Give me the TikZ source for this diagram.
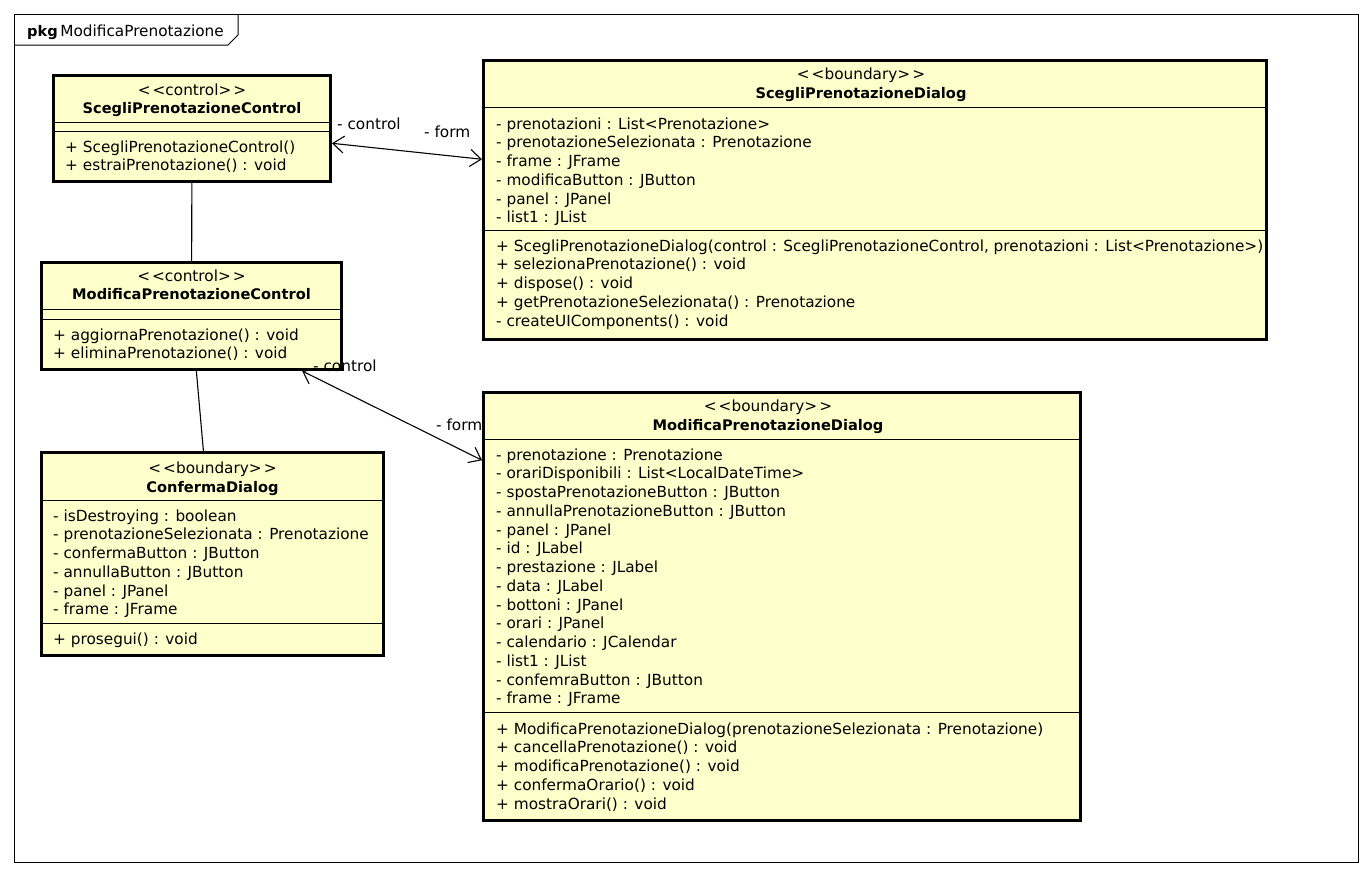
\documentclass[tikz,border=0pt]{standalone}
\usepackage{fontspec}
\setmainfont{DejaVu Sans}
\usetikzlibrary{arrows.meta}
\definecolor{umlfill}{HTML}{FFFFCC}
\newcommand\umlsz{\fontsize{15.3}{18.75}\selectfont}
\newcommand\umlbf{\fontsize{14.6}{18.75}\selectfont\bfseries}
\newcommand\stereo[1]{<\kern2pt<#1>\kern2pt>}
\newcommand\umlrows[4]{%
  \foreach \rowtext [count=\i from 0] in {#4} {%
    \node[row] (#1\i) at (#2, #3+18.75*\i) {\rowtext};}}
\begin{document}
\begin{tikzpicture}[x=1pt, y=-1pt,
  cls/.style={draw=black, line width=3pt, fill=umlfill, inner sep=0pt},
  div/.style={line width=1pt},
  row/.style={anchor=base west, inner sep=0pt, font=\umlsz},
  head/.style={anchor=base, inner sep=0pt, font=\umlsz},
  cname/.style={anchor=base, inner sep=0pt, font=\umlbf},
  role/.style={anchor=base west, inner sep=0pt, font=\umlsz},
  plain/.style={line width=1.1pt},
  nav/.style={line width=1.1pt, {Straight Barb[length=11pt,width=17pt]}-{Straight Barb[length=11pt,width=17pt]}},
  frame/.style={line width=1pt}]
\useasboundingbox (0,0) rectangle (1370,876);
% package frame
\draw[frame] (14,14) rectangle (1358,862);
\draw[frame] (14,45) -- (228,45) -- (238,35) -- (238,14);
\node[role] (pkglbl) at (27,36) {{\umlbf pkg}\,ModificaPrenotazione};

% classes
\node[cls, minimum width=277, minimum height=106] (spc) at (192,128.5) {};
\node[cls, minimum width=300, minimum height=107] (mpc) at (191.5,316) {};
\node[cls, minimum width=342, minimum height=203] (cd) at (212.5,554) {};
\node[cls, minimum width=783, minimum height=279] (spd) at (875,200) {};
\node[cls, minimum width=597, minimum height=428] (mpd) at (782,606.5) {};

% ScegliPrenotazioneControl
\node[head] (spc-st) at (192,95) {\stereo{control}};
\node[cname] (spc-nm) at (192,113) {ScegliPrenotazioneControl};
\draw[div] (spc.west |- 0,122) -- (spc.east |- 0,122);
\draw[div] (spc.west |- 0,131) -- (spc.east |- 0,131);
\umlrows{spc-m}{65}{152}{+ ScegliPrenotazioneControl(), + estraiPrenotazione() : void}

% ModificaPrenotazioneControl
\node[head] (mpc-st) at (191.5,281) {\stereo{control}};
\node[cname] (mpc-nm) at (191.5,299) {ModificaPrenotazioneControl};
\draw[div] (mpc.west |- 0,309) -- (mpc.east |- 0,309);
\draw[div] (mpc.west |- 0,319) -- (mpc.east |- 0,319);
\umlrows{mpc-m}{53}{340}{+ aggiornaPrenotazione() : void, + eliminaPrenotazione() : void}

% ConfermaDialog
\node[head] (cd-st) at (212.5,473) {\stereo{boundary}};
\node[cname] (cd-nm) at (212.5,492) {ConfermaDialog};
\draw[div] (cd.west |- 0,500) -- (cd.east |- 0,500);
\umlrows{cd-a}{53}{521}{- isDestroying : boolean, - prenotazioneSelezionata : Prenotazione, - confermaButton : JButton, - annullaButton : JButton, - panel : JPanel, - frame : JFrame}
\draw[div] (cd.west |- 0,623) -- (cd.east |- 0,623);
\umlrows{cd-m}{53}{644}{+ prosegui() : void}

% ScegliPrenotazioneDialog
\node[head] (spd-st) at (861,79) {\stereo{boundary}};
\node[cname] (spd-nm) at (861,98) {ScegliPrenotazioneDialog};
\draw[div] (spd.west |- 0,107) -- (spd.east |- 0,107);
\umlrows{spd-a}{496}{129}{- prenotazioni : List<Prenotazione>, - prenotazioneSelezionata : Prenotazione, - frame : JFrame, - modificaButton : JButton, - panel : JPanel, - list1 : JList}
\draw[div] (spd.west |- 0,230) -- (spd.east |- 0,230);
\umlrows{spd-m}{496}{251}{{+ ScegliPrenotazioneDialog(control : ScegliPrenotazioneControl, prenotazioni : List<Prenotazione>)}, + selezionaPrenotazione() : void, + dispose() : void, + getPrenotazioneSelezionata() : Prenotazione, - createUIComponents() : void}

% ModificaPrenotazioneDialog
\node[head] (mpd-st) at (768,411) {\stereo{boundary}};
\node[cname] (mpd-nm) at (768,430) {ModificaPrenotazioneDialog};
\draw[div] (mpd.west |- 0,439) -- (mpd.east |- 0,439);
\umlrows{mpd-a}{496}{460}{- prenotazione : Prenotazione, - orariDisponibili : List<LocalDateTime>, - spostaPrenotazioneButton : JButton, - annullaPrenotazioneButton : JButton, - panel : JPanel, - id : JLabel, - prestazione : JLabel, - data : JLabel, - bottoni : JPanel, - orari : JPanel, - calendario : JCalendar, - list1 : JList, - confemraButton : JButton, - frame : JFrame}
\draw[div] (mpd.west |- 0,712) -- (mpd.east |- 0,712);
\umlrows{mpd-m}{496}{734}{+ ModificaPrenotazioneDialog(prenotazioneSelezionata : Prenotazione), + cancellaPrenotazione() : void, + modificaPrenotazione() : void, + confermaOrario() : void, + mostraOrari() : void}

% connectors
\draw[nav] (spc) -- (spd);
\draw[plain] (spc) -- (mpc);
\draw[plain] (mpc) -- (cd);
\draw[nav] (mpc) -- (mpd);

% role labels
\node[role] (r1) at (337,129) {- control};
\node[role] (r2) at (424,137) {- form};
\node[role] (r3) at (313,371) {- control};
\node[role] (r4) at (436,430) {- form};
\end{tikzpicture}
\end{document}
